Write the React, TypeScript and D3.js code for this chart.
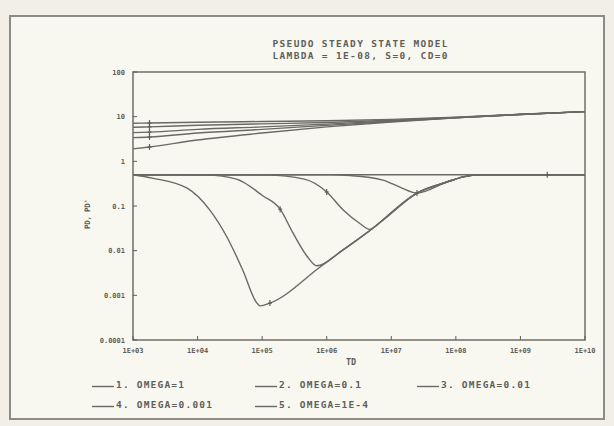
import React from "react";
import * as d3 from "d3";

// ---------- data ----------
const TITLE_1 = "PSEUDO STEADY STATE MODEL";
const TITLE_2 = "LAMBDA = 1E-08, S=0, CD=0";
const X_TITLE = "TD";
const Y_TITLE = "PD, PD'";

const X_TICKS = [1e3, 1e4, 1e5, 1e6, 1e7, 1e8, 1e9, 1e10];
const X_TICK_LABELS = ["1E+03", "1E+04", "1E+05", "1E+06", "1E+07", "1E+08", "1E+09", "1E+10"];
const Y_TICKS = [100, 10, 1, 0.1, 0.01, 0.001, 0.0001];
const Y_TICK_LABELS = ["100", "10", "1", "0.1", "0.01", "0.001", "0.0001"];

const SERIES_NAMES = ["1. OMEGA=1", "2. OMEGA=0.1", "3. OMEGA=0.01", "4. OMEGA=0.001", "5. OMEGA=1E-4"];

// pressure PD
const TD_UP = [1e3, 1.8e3, 1e4, 1e5, 1e6, 1e7, 1e8, 1e9, 1e10];
const PD_1 = [1.9, 2.1, 3.0, 4.3, 5.9, 7.6, 9.4, 11.2, 13.0];
const PD_2 = [3.4, 3.5, 4.3, 5.2, 6.4, 7.8, 9.4, 11.2, 13.0];
const PD_3 = [4.4, 4.5, 5.2, 5.9, 6.8, 8.0, 9.5, 11.2, 13.0];
const PD_4 = [5.8, 5.9, 6.4, 6.9, 7.4, 8.3, 9.6, 11.3, 13.0];
const PD_5 = [7.1, 7.2, 7.5, 7.8, 8.1, 8.7, 9.7, 11.3, 13.0];
const PD_MARK_IDX = [1, 1, 1, 1, 1];

// derivative PD'
const DER_TD_1 = [1e3, 2.6e9, 1e10];
const DER_1 = [0.5, 0.5, 0.5];
const DER_TD_2 = [1e3, 1.1e6, 2.3e6, 7.4e6, 1.36e7, 2.5e7, 7.3e7, 1.3e8, 2.3e8, 1e10];
const DER_2 = [0.5, 0.5, 0.48, 0.38, 0.265, 0.195, 0.345, 0.45, 0.5, 0.5];
const DER_TD_3 = [1e3, 1.2e5, 4.5e5, 1.0e6, 1.8e6, 3.3e6, 4.6e6, 7.0e6, 2.5e7, 7.3e7, 1.3e8, 2.3e8, 1e10];
const DER_3 = [0.5, 0.49, 0.40, 0.206, 0.081, 0.04, 0.03, 0.045, 0.195, 0.345, 0.45, 0.5, 0.5];
const DER_TD_4 = [1e3, 1.4e4, 4.0e4, 1.02e5, 1.9e5, 3.0e5, 4.96e5, 7.0e5, 1.79e6, 5.0e6, 2.5e7, 7.3e7, 1.3e8, 2.3e8, 1e10];
const DER_4 = [0.5, 0.49, 0.40, 0.17, 0.085, 0.0249, 0.0075, 0.0046, 0.0104, 0.0305, 0.195, 0.345, 0.45, 0.5, 0.5];
const DER_TD_5 = [1e3, 2.0e3, 6.9e3, 1.55e4, 2.86e4, 5.0e4, 8.3e4, 9.3e4, 1.32e5, 7.9e5, 1.79e6, 5.0e6, 2.5e7, 7.3e7, 1.3e8, 2.3e8, 1e10];
const DER_5 = [0.5, 0.42, 0.25, 0.081, 0.02, 0.0037, 0.00067, 0.00058, 0.00067, 0.0043, 0.0104, 0.0305, 0.195, 0.345, 0.45, 0.5, 0.5];
const DER_MARK_IDX = [1, 5, 3, 4, 8];

// ---------- layout ----------
const W = 614;
const H = 426;
const PL = 133, PR = 585, PT = 72, PB = 340;
const INK = "#5f5f59";
const FONT = "'DejaVu Sans Mono', monospace";

export default function App() {
  const x = d3.scaleLog().domain([1e3, 1e10]).range([PL, PR]);
  const y = d3.scaleLog().domain([1e-4, 100]).range([PB, PT]);
  const line = d3
    .line<[number, number]>()
    .x((d) => x(d[0]))
    .y((d) => y(d[1]))
    .curve(d3.curveMonotoneX);

  const pdSeries = [PD_1, PD_2, PD_3, PD_4, PD_5].map((v) => TD_UP.map((t, i) => [t, v[i]] as [number, number]));
  const derSeries = [
    [DER_TD_1, DER_1],
    [DER_TD_2, DER_2],
    [DER_TD_3, DER_3],
    [DER_TD_4, DER_4],
    [DER_TD_5, DER_5],
  ].map(([ts, vs]) => ts.map((t, i) => [t, vs[i]] as [number, number]));

  const marker = (px: number, py: number, k: string) => (
    <g key={k} stroke={INK} strokeWidth={1.2}>
      <line x1={px} x2={px} y1={py - 3} y2={py + 3} />
      <line x1={px - 2} x2={px + 2} y1={py} y2={py} />
    </g>
  );

  const legendPos = [
    [92, 384],
    [255, 384],
    [417, 384],
    [92, 404],
    [255, 404],
  ];

  return (
    <svg width={W} height={H} style={{ position: "absolute", left: 0, top: 0 }} fontFamily={FONT}>
      <rect x={0} y={0} width={W} height={H} fill="#f1efe6" />
      <rect x={10} y={16} width={594} height={403} fill="#f8f7f0" stroke="#8c8c86" strokeWidth={2} />

      {/* titles */}
      <text x={360} y={46.5} fontSize={9.5} fontWeight="bold" fill={INK} textAnchor="middle" textLength={175} lengthAdjust="spacing">
        {TITLE_1}
      </text>
      <text x={360} y={58.5} fontSize={9.5} fontWeight="bold" fill={INK} textAnchor="middle" textLength={175} lengthAdjust="spacing">
        {TITLE_2}
      </text>

      {/* plot frame */}
      <rect x={PL} y={PT} width={PR - PL} height={PB - PT} fill="none" stroke="#77776f" strokeWidth={1.6} />

      {/* y ticks */}
      {Y_TICKS.map((v, i) => (
        <g key={"yt" + i}>
          <line x1={PL} x2={PL + 4} y1={y(v)} y2={y(v)} stroke={INK} strokeWidth={1} />
          <text x={125} y={y(v) + 2.5} fontSize={7} fontWeight="bold" fill={INK} textAnchor="end">
            {Y_TICK_LABELS[i]}
          </text>
        </g>
      ))}

      {/* x ticks */}
      {X_TICKS.map((v, i) => (
        <g key={"xt" + i}>
          <line x1={x(v)} x2={x(v)} y1={PB} y2={PB - 4} stroke={INK} strokeWidth={1} />
          <text x={x(v)} y={352.5} fontSize={7} fontWeight="bold" fill={INK} textAnchor="middle">
            {X_TICK_LABELS[i]}
          </text>
        </g>
      ))}

      <text x={351} y={365} fontSize={8.5} fontWeight="bold" fill={INK} textAnchor="middle">
        {X_TITLE}
      </text>
      <text
        transform={`translate(90,214) rotate(-90)`}
        fontSize={7.5}
        fontWeight="bold"
        fill={INK}
        textAnchor="middle"
        textLength={30}
        lengthAdjust="spacing"
      >
        {Y_TITLE}
      </text>

      {/* curves */}
      <g fill="none" stroke="#6a6a64" strokeWidth={1.4}>
        {pdSeries.map((s, i) => (
          <path key={"pd" + i} d={line(s) || ""} />
        ))}
        {derSeries.map((s, i) => (
          <path key={"der" + i} d={line(s) || ""} />
        ))}
      </g>

      {/* markers */}
      {pdSeries.map((s, i) => marker(x(s[PD_MARK_IDX[i]][0]), y(s[PD_MARK_IDX[i]][1]), "pm" + i))}
      {derSeries.map((s, i) => marker(x(s[DER_MARK_IDX[i]][0]), y(s[DER_MARK_IDX[i]][1]), "dm" + i))}

      {/* legend */}
      {SERIES_NAMES.map((name, i) => {
        const [lx, ly] = legendPos[i];
        return (
          <g key={"lg" + i}>
            <line x1={lx} x2={lx + 22} y1={ly + 2.5} y2={ly + 2.5} stroke="#6a6a64" strokeWidth={1.4} />
            <text
              x={lx + 24}
              y={ly + 3.5}
              fontSize={9.5}
              fontWeight="bold"
              fill={INK}
              textLength={name.length * 7 - 2}
              lengthAdjust="spacing"
            >
              {name}
            </text>
          </g>
        );
      })}
    </svg>
  );
}
